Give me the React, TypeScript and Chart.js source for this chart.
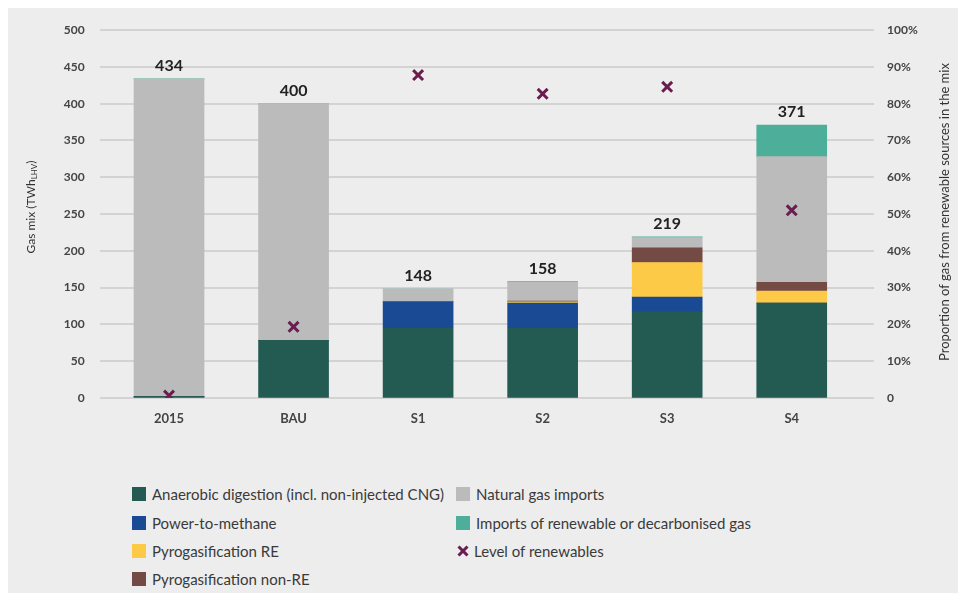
import React, { useEffect, useRef } from "react";
import { Chart, registerables } from "chart.js";

Chart.register(...registerables);

const categories = ["2015", "BAU", "S1", "S2", "S3", "S4"];
const anaerobic = [2, 78, 95, 95, 117, 129];
const powerToMethane = [0, 0, 36, 34, 20, 0];
const pyroRE = [0, 0, 0, 1.5, 47, 16];
const pyroNonRE = [0, 0, 0, 1, 20, 12];
const naturalGasImports = [431.5, 322, 17, 25.5, 14, 171];
const renewableImports = [0.5, 0, 0, 1, 1, 43];
const totals = [434, 400, 148, 158, 219, 371];
const renewablesLevel = [0.6, 19.3, 87.8, 82.7, 84.6, 51];
const leftTicks = [0, 50, 100, 150, 200, 250, 300, 350, 400, 450, 500];
const rightTicks = ["0", "10%", "20%", "30%", "40%", "50%", "60%", "70%", "80%", "90%", "100%"];

const FONT = "Lato, 'Open Sans', sans-serif";
const SHIFT = 18;

const series = [
  { label: "Anaerobic digestion (incl. non-injected CNG)", data: anaerobic, color: "#235a52" },
  { label: "Power-to-methane", data: powerToMethane, color: "#1b4a94" },
  { label: "Pyrogasification RE", data: pyroRE, color: "#fdca47" },
  { label: "Pyrogasification non-RE", data: pyroNonRE, color: "#744a45" },
  { label: "Natural gas imports", data: naturalGasImports, color: "#babbba" },
  { label: "Imports of renewable or decarbonised gas", data: renewableImports, color: "#4dae99" },
];
const markerLabel = "Level of renewables";
const markerColor = "#6a1d4e";

const gridPlugin = {
  id: "fullGrid",
  beforeDatasetsDraw(chart: any) {
    const { ctx } = chart;
    const y = chart.scales.y;
    ctx.save();
    ctx.strokeStyle = "#d3d3d3";
    ctx.lineWidth = 2;
    leftTicks.forEach((v) => {
      const py = Math.round(y.getPixelForValue(v));
      ctx.beginPath();
      ctx.moveTo(92, py);
      ctx.lineTo(866, py);
      ctx.stroke();
    });
    ctx.restore();
  },
};

const totalsPlugin = {
  id: "totals",
  afterDatasetsDraw(chart: any) {
    const { ctx } = chart;
    const x = chart.scales.x;
    const y = chart.scales.y;
    ctx.save();
    ctx.font = `bold 16px ${FONT}`;
    ctx.fillStyle = "#222";
    ctx.textAlign = "center";
    ctx.textBaseline = "middle";
    totals.forEach((t, i) => {
      ctx.fillText(String(t), x.getPixelForValue(i), y.getPixelForValue(t) - 13);
    });
    ctx.restore();
  },
};

const titlesPlugin = {
  id: "axisTitles",
  afterDraw(chart: any) {
    const { ctx } = chart;
    ctx.save();
    ctx.fillStyle = "#333";
    ctx.translate(23, 199 + SHIFT);
    ctx.rotate(-Math.PI / 2);
    const main = "Gas mix (TWh";
    ctx.font = `12px ${FONT}`;
    const wMain = ctx.measureText(main).width;
    ctx.font = `8px ${FONT}`;
    const wSub = ctx.measureText("LHV").width;
    ctx.font = `12px ${FONT}`;
    const wEnd = ctx.measureText(")").width;
    const total = wMain + wSub + wEnd;
    let cx = -total / 2;
    ctx.textBaseline = "middle";
    ctx.textAlign = "left";
    ctx.fillText(main, cx, 0);
    cx += wMain;
    ctx.font = `8px ${FONT}`;
    ctx.fillText("LHV", cx, 3);
    cx += wSub;
    ctx.font = `12px ${FONT}`;
    ctx.fillText(")", cx, 0);
    ctx.restore();

    ctx.save();
    ctx.fillStyle = "#333";
    ctx.translate(937, 204 + SHIFT);
    ctx.rotate(-Math.PI / 2);
    ctx.font = `13px ${FONT}`;
    ctx.textAlign = "center";
    ctx.textBaseline = "middle";
    ctx.fillText("Proportion of gas from renewable sources in the mix", 0, 0);
    ctx.restore();
  },
};

function ChartView() {
  const ref = useRef<HTMLCanvasElement | null>(null);
  useEffect(() => {
    if (!ref.current) return;
    const datasets: any[] = series.map((s) => ({
      type: "bar",
      label: s.label,
      data: s.data,
      backgroundColor: s.color,
      borderWidth: 0,
      barThickness: 70,
      stack: "mix",
      yAxisID: "y",
      order: 2,
    }));
    datasets.push({
      type: "line",
      label: markerLabel,
      data: renewablesLevel,
      yAxisID: "y1",
      showLine: false,
      pointStyle: "crossRot",
      pointRadius: 7,
      pointBorderWidth: 3,
      pointBorderColor: markerColor,
      pointBackgroundColor: markerColor,
      borderColor: markerColor,
      order: 1,
    });
    const chart = new Chart(ref.current, {
      type: "bar",
      data: { labels: categories, datasets },
      plugins: [gridPlugin, totalsPlugin, titlesPlugin],
      options: {
        animation: false,
        responsive: false,
        maintainAspectRatio: false,
        layout: { padding: { top: 4, left: 0, right: 0, bottom: 0 } },
        plugins: { legend: { display: false }, tooltip: { enabled: false } },
        scales: {
          x: {
            stacked: true,
            grid: { display: false, drawTicks: false },
            border: { display: false },
            ticks: { color: "#444", font: { family: FONT, size: 13, weight: "bold" }, padding: 13 },
            afterFit: (s: any) => { s.height = 39; },
          },
          y: {
            stacked: true,
            position: "left",
            min: 0,
            max: 500,
            grid: { display: false, drawTicks: false },
            border: { display: false },
            afterBuildTicks: (s: any) => { s.ticks = leftTicks.map((v) => ({ value: v })); },
            ticks: {
              color: "#444",
              font: { family: FONT, size: 12, weight: "bold" },
              padding: 22,
              callback: (v: any) => String(v),
            },
            afterFit: (s: any) => { s.width = 98.75; },
          },
          y1: {
            position: "right",
            min: 0,
            max: 100,
            grid: { display: false, drawTicks: false },
            border: { display: false },
            afterBuildTicks: (s: any) => { s.ticks = rightTicks.map((_, i) => ({ value: i * 10 })); },
            ticks: {
              color: "#444",
              font: { family: FONT, size: 12, weight: "bold" },
              padding: 33,
              callback: (v: any) => rightTicks[Math.round(Number(v) / 10)],
            },
            afterFit: (s: any) => { s.width = 104; },
          },
        },
      } as any,
    });
    return () => chart.destroy();
  }, []);
  return <canvas ref={ref} width={950} height={430 + SHIFT} style={{ position: "absolute", left: 0, top: -SHIFT }} />;
}

const legendCol1 = [0, 1, 2, 3];
const legendCol2 = [4, 5];
const rowY = [486, 514.5, 543, 571];

export default function App() {
  const textStyle: React.CSSProperties = {
    position: "absolute",
    fontFamily: FONT,
    fontSize: 15,
    color: "#3a3a3a",
    whiteSpace: "nowrap",
    lineHeight: "18px",
  };
  const item = (idx: number, x: number, y: number) => (
    <React.Fragment key={idx}>
      <div style={{ position: "absolute", left: x, top: y - 7, width: 14, height: 14, background: series[idx].color }} />
      <div style={{ ...textStyle, left: x + 20, top: y - 9 }}>{series[idx].label}</div>
    </React.Fragment>
  );
  return (
    <div style={{ position: "relative", width: 950, height: 585, background: "#ededed", overflow: "hidden" }}>
      <ChartView />
      {legendCol1.map((idx, r) => item(idx, 124, rowY[r]))}
      {legendCol2.map((idx, r) => item(idx, 448, rowY[r]))}
      <svg style={{ position: "absolute", left: 448, top: rowY[2] - 7 }} width={14} height={14}>
        <line x1={2.5} y1={2.5} x2={11.5} y2={11.5} stroke={markerColor} strokeWidth={3} />
        <line x1={11.5} y1={2.5} x2={2.5} y2={11.5} stroke={markerColor} strokeWidth={3} />
      </svg>
      <div style={{ ...textStyle, left: 466, top: rowY[2] - 9 }}>{markerLabel}</div>
    </div>
  );
}
